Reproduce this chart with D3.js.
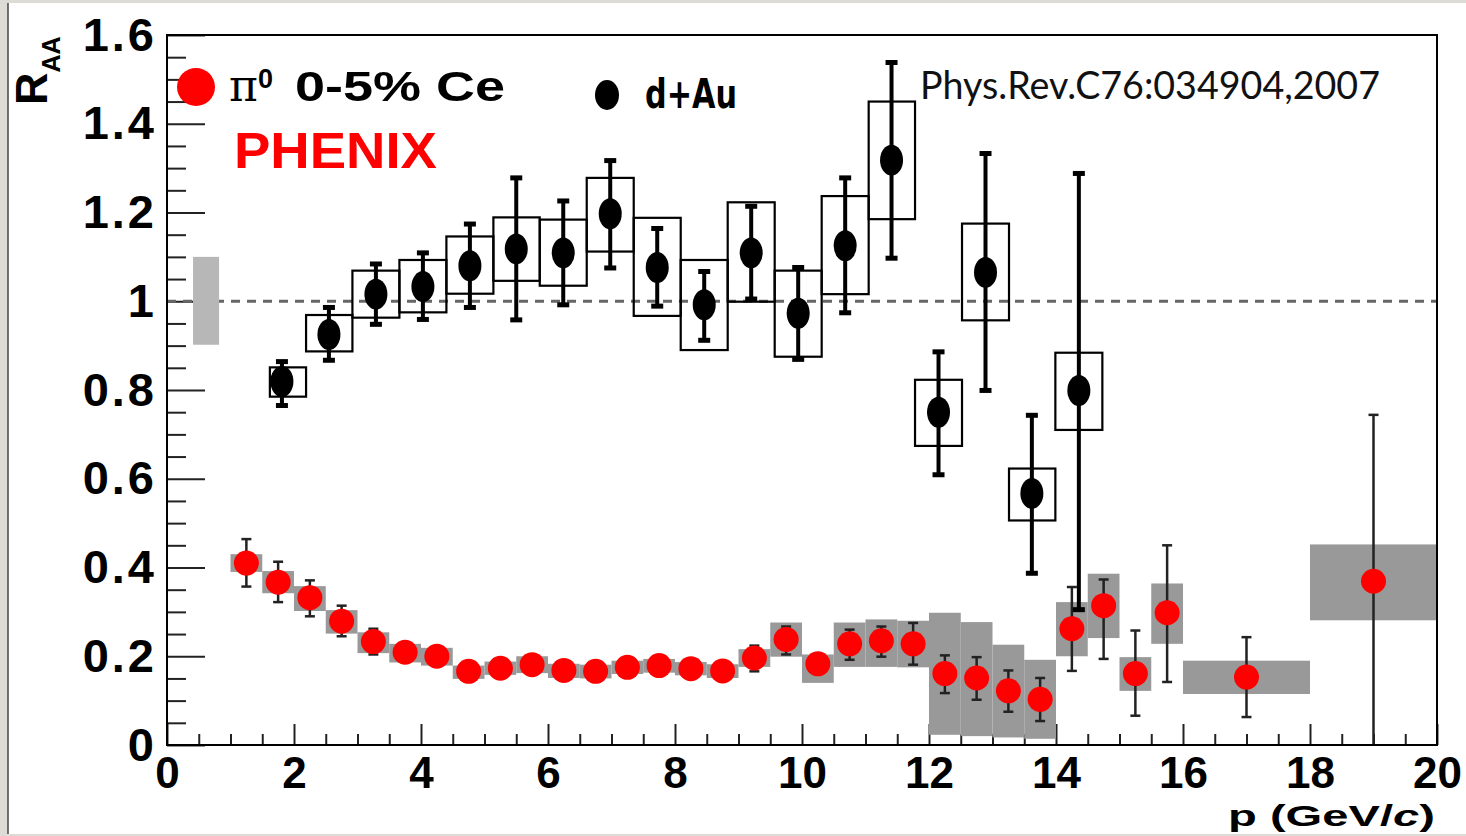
<!DOCTYPE html>
<html>
<head>
<meta charset="utf-8">
<script src="https://cdn.jsdelivr.net/npm/d3@7"></script>
<style>
  body { margin: 0; background: white; }
  svg { display: block; }
</style>
</head>
<body>
<script>
// pi0 0-5% central Au+Au (red points, grey sys boxes)
var piX     = [1.25, 1.75, 2.25, 2.75, 3.25, 3.75, 4.25, 4.75, 5.25, 5.75, 6.25, 6.75, 7.25, 7.75, 8.25, 8.75,
               9.25, 9.75, 10.25, 10.75, 11.25, 11.75, 12.25, 12.75, 13.25, 13.75, 14.25, 14.75, 15.25, 15.75, 17, 19];
var piBinLo = [1, 1.5, 2, 2.5, 3, 3.5, 4, 4.5, 5, 5.5, 6, 6.5, 7, 7.5, 8, 8.5,
               9, 9.5, 10, 10.5, 11, 11.5, 12, 12.5, 13, 13.5, 14, 14.5, 15, 15.5, 16, 18];
var piBinHi = [1.5, 2, 2.5, 3, 3.5, 4, 4.5, 5, 5.5, 6, 6.5, 7, 7.5, 8, 8.5, 9,
               9.5, 10, 10.5, 11, 11.5, 12, 12.5, 13, 13.5, 14, 14.5, 15, 15.5, 16, 18, 20];
var piVal    = [0.410, 0.367, 0.332, 0.279, 0.233, 0.209, 0.200, 0.166, 0.173, 0.181, 0.168, 0.166, 0.175, 0.179, 0.172, 0.167,
                0.196, 0.238, 0.183, 0.228, 0.235, 0.228, 0.161, 0.151, 0.122, 0.103, 0.262, 0.314, 0.161, 0.298, 0.153, 0.369];
var piStatHi = [0.464, 0.413, 0.371, 0.314, 0.262, 0.222, 0.212, 0.176, 0.183, 0.191, 0.178, 0.176, 0.185, 0.189, 0.182, 0.177,
                0.224, 0.267, 0.204, 0.260, 0.267, 0.275, 0.202, 0.198, 0.168, 0.151, 0.356, 0.373, 0.258, 0.450, 0.243, 0.744];
var piStatLo = [0.357, 0.322, 0.290, 0.245, 0.204, 0.196, 0.188, 0.156, 0.163, 0.171, 0.158, 0.156, 0.165, 0.169, 0.162, 0.157,
                0.166, 0.204, 0.161, 0.192, 0.199, 0.181, 0.117, 0.102, 0.075, 0.054, 0.167, 0.194, 0.066, 0.142, 0.063, 0.0];
var piSysHi  = [0.430, 0.392, 0.358, 0.304, 0.254, 0.228, 0.219, 0.179, 0.188, 0.200, 0.183, 0.181, 0.190, 0.194, 0.187, 0.182,
                0.216, 0.276, 0.204, 0.276, 0.283, 0.280, 0.298, 0.277, 0.226, 0.192, 0.322, 0.386, 0.198, 0.364, 0.190, 0.452];
var piSysLo  = [0.390, 0.342, 0.302, 0.251, 0.207, 0.186, 0.179, 0.149, 0.158, 0.162, 0.151, 0.150, 0.160, 0.163, 0.157, 0.151,
                0.176, 0.199, 0.140, 0.176, 0.176, 0.175, 0.023, 0.020, 0.017, 0.014, 0.200, 0.241, 0.122, 0.228, 0.115, 0.281];

// d+Au (black points, open sys boxes)
var dauX     = [1.81, 2.55, 3.29, 4.03, 4.77, 5.50, 6.24, 6.98, 7.72, 8.46, 9.20, 9.94, 10.68, 11.41, 12.15, 12.89, 13.62, 14.36];
var dauBinLo = [1.62, 2.19, 2.92, 3.66, 4.40, 5.14, 5.87, 6.61, 7.35, 8.09, 8.83, 9.57, 10.31, 11.05, 11.78, 12.52, 13.26, 13.99];
var dauBinHi = [2.19, 2.92, 3.66, 4.40, 5.14, 5.87, 6.61, 7.35, 8.09, 8.83, 9.57, 10.31, 11.05, 11.78, 12.52, 13.26, 13.99, 14.73];
var dauVal    = [0.819, 0.925, 1.016, 1.033, 1.080, 1.118, 1.109, 1.197, 1.076, 0.992, 1.109, 0.973, 1.125, 1.318, 0.750, 1.065, 0.567, 0.799];
var dauStatHi = [0.864, 0.986, 1.084, 1.109, 1.174, 1.278, 1.226, 1.317, 1.164, 1.067, 1.214, 1.076, 1.278, 1.538, 0.886, 1.333, 0.743, 1.288];
var dauStatLo = [0.765, 0.867, 0.948, 0.959, 0.986, 0.958, 0.992, 1.075, 0.989, 0.912, 1.005, 0.869, 0.974, 1.097, 0.609, 0.799, 0.387, 0.305];
var dauSysHi  = [0.851, 0.969, 1.069, 1.093, 1.146, 1.189, 1.184, 1.278, 1.188, 1.093, 1.223, 1.069, 1.237, 1.450, 0.823, 1.175, 0.623, 0.884];
var dauSysLo  = [0.785, 0.887, 0.963, 0.975, 1.017, 1.046, 1.035, 1.112, 0.967, 0.890, 0.999, 0.875, 1.016, 1.185, 0.674, 0.957, 0.506, 0.710];

// global normalisation band at R=1
var normBand = { x0: 0.41, x1: 0.82, lo: 0.902, hi: 1.1 };

var xTicks = [0, 2, 4, 6, 8, 10, 12, 14, 16, 18, 20];
var yTicks = [0, 0.2, 0.4, 0.6, 0.8, 1, 1.2, 1.4, 1.6];

var width = 1466,
    height = 836;

var svg = d3.select("body").append("svg")
  .attr("width", width)
  .attr("height", height);

// page frame of the screenshot
svg.append("rect")
  .attr("width", width).attr("height", height)
  .style("fill", "#dddbd6");
svg.append("rect")
  .attr("x", 8).attr("y", 3)
  .attr("width", width - 8).attr("height", 831)
  .style("fill", "white");
svg.append("line")
  .attr("x1", 8).attr("x2", 8).attr("y1", 3).attr("y2", 834)
  .style("stroke", "#444").style("stroke-width", 1.5);

var x = d3.scaleLinear().domain([0, 20]).range([167, 1437]);
var y = d3.scaleLinear().domain([0, 1.6]).range([745, 35]);

var font = "'Liberation Sans', Arial, sans-serif";

// minor ticks
var xMinor = d3.range(0, 20.01, 0.5).filter(function(v) { return v % 2 !== 0; });
var yMinor = d3.range(0, 32).map(function(i) { return i * 0.05; }).filter(function(v, i) { return i % 4 !== 0; });

var gx = svg.append("g").attr("transform", "translate(0,745)");
gx.call(d3.axisBottom(x).tickValues(xMinor).tickSize(-11).tickSizeOuter(0).tickFormat(""));
gx.select(".domain").remove();

var gxMaj = svg.append("g").attr("transform", "translate(0,745)");
gxMaj.call(d3.axisBottom(x).tickValues(xTicks).tickSize(-21).tickSizeOuter(0).tickPadding(12).tickFormat(d3.format("d")));
gxMaj.select(".domain").remove();

var gy = svg.append("g").attr("transform", "translate(167,0)");
gy.call(d3.axisLeft(y).tickValues(yMinor).tickSize(-19).tickSizeOuter(0).tickFormat(""));
gy.select(".domain").remove();

var gyMaj = svg.append("g").attr("transform", "translate(167,0)");
gyMaj.call(d3.axisLeft(y).tickValues(yTicks).tickSize(-38).tickSizeOuter(0).tickPadding(10).tickFormat(d3.format("~g")));
gyMaj.select(".domain").remove();

svg.selectAll(".tick line")
  .style("stroke", "#222")
  .style("stroke-width", 2);

gxMaj.selectAll("text")
  .style("font-family", font)
  .style("font-weight", "bold")
  .style("font-size", "44px")
  .style("fill", "black");

gyMaj.selectAll("text")
  .style("font-family", font)
  .style("font-weight", "bold")
  .style("font-size", "47px")
  .style("letter-spacing", "3px")
  .style("fill", "black");

// dashed line at 1
svg.append("line")
  .attr("x1", x(0)).attr("x2", x(20))
  .attr("y1", y(1)).attr("y2", y(1))
  .style("stroke", "#666")
  .style("stroke-width", 3)
  .style("stroke-dasharray", "9,7");

svg.append("rect")
  .attr("x", x(normBand.x0))
  .attr("width", x(normBand.x1) - x(normBand.x0))
  .attr("y", y(normBand.hi))
  .attr("height", y(normBand.lo) - y(normBand.hi))
  .style("fill", "#b7b7b7");

var pi = piX.map(function(v, i) {
  return { x: v, lo: piBinLo[i], hi: piBinHi[i], val: piVal[i],
           sh: piStatHi[i], sl: piStatLo[i], yh: piSysHi[i], yl: piSysLo[i] };
});
var dau = dauX.map(function(v, i) {
  return { x: v, lo: dauBinLo[i], hi: dauBinHi[i], val: dauVal[i],
           sh: dauStatHi[i], sl: dauStatLo[i], yh: dauSysHi[i], yl: dauSysLo[i] };
});

// pi0 systematic boxes
svg.append("g").selectAll("rect")
  .data(pi)
  .enter().append("rect")
  .attr("x", function(d) { return x(d.lo); })
  .attr("width", function(d) { return x(d.hi) - x(d.lo); })
  .attr("y", function(d) { return y(d.yh); })
  .attr("height", function(d) { return y(d.yl) - y(d.yh); })
  .style("fill", "#999");

// pi0 stat errors
var piErr = svg.append("g").selectAll("g")
  .data(pi)
  .enter().append("g")
  .style("stroke", "#222")
  .style("stroke-width", 2.5);
piErr.append("line")
  .attr("x1", function(d) { return x(d.x); })
  .attr("x2", function(d) { return x(d.x); })
  .attr("y1", function(d) { return y(d.sh); })
  .attr("y2", function(d) { return y(d.sl); });
piErr.append("line")
  .attr("x1", function(d) { return x(d.x) - 5; })
  .attr("x2", function(d) { return x(d.x) + 5; })
  .attr("y1", function(d) { return y(d.sh); })
  .attr("y2", function(d) { return y(d.sh); });
piErr.filter(function(d) { return d.sl > 0; }).append("line")
  .attr("x1", function(d) { return x(d.x) - 5; })
  .attr("x2", function(d) { return x(d.x) + 5; })
  .attr("y1", function(d) { return y(d.sl); })
  .attr("y2", function(d) { return y(d.sl); });

svg.append("g").selectAll("circle")
  .data(pi)
  .enter().append("circle")
  .attr("cx", function(d) { return x(d.x); })
  .attr("cy", function(d) { return y(d.val); })
  .attr("r", 12.5)
  .style("fill", "#ff0000");

// d+Au systematic boxes
svg.append("g").selectAll("rect")
  .data(dau)
  .enter().append("rect")
  .attr("x", function(d) { return x(d.lo); })
  .attr("width", function(d) { return x(d.hi) - x(d.lo); })
  .attr("y", function(d) { return y(d.yh); })
  .attr("height", function(d) { return y(d.yl) - y(d.yh); })
  .style("fill", "none")
  .style("stroke", "black")
  .style("stroke-width", 2.2);

var dauErr = svg.append("g").selectAll("g")
  .data(dau)
  .enter().append("g")
  .style("stroke", "black");
dauErr.append("line")
  .attr("x1", function(d) { return x(d.x); })
  .attr("x2", function(d) { return x(d.x); })
  .attr("y1", function(d) { return y(d.sh); })
  .attr("y2", function(d) { return y(d.sl); })
  .style("stroke-width", 4);
dauErr.selectAll(".cap")
  .data(function(d) { return [[d.x, d.sh], [d.x, d.sl]]; })
  .enter().append("line")
  .attr("class", "cap")
  .attr("x1", function(c) { return x(c[0]) - 6; })
  .attr("x2", function(c) { return x(c[0]) + 6; })
  .attr("y1", function(c) { return y(c[1]); })
  .attr("y2", function(c) { return y(c[1]); })
  .style("stroke-width", 5);

svg.append("g").selectAll("ellipse")
  .data(dau)
  .enter().append("ellipse")
  .attr("cx", function(d) { return x(d.x); })
  .attr("cy", function(d) { return y(d.val); })
  .attr("rx", 11.5)
  .attr("ry", 15.5)
  .style("fill", "black");

// frame
svg.append("rect")
  .attr("x", x(0)).attr("y", y(1.6))
  .attr("width", x(20) - x(0))
  .attr("height", y(0) - y(1.6))
  .style("fill", "none")
  .style("stroke", "black")
  .style("stroke-width", 2);

// axis titles
var ytitle = svg.append("text")
  .attr("transform", "translate(47,105) rotate(-90)")
  .style("font-family", font)
  .style("font-weight", "bold")
  .style("font-size", "45px");
ytitle.append("tspan").text("R");
ytitle.append("tspan").attr("dy", 13).style("font-size", "25px").text("AA");

var xtitle = svg.append("text")
  .attr("x", 1228).attr("y", 826)
  .attr("textLength", 207)
  .attr("lengthAdjust", "spacingAndGlyphs")
  .style("font-family", font)
  .style("font-weight", "bold")
  .style("font-size", "30px");
xtitle.append("tspan").text("p  (GeV/");
xtitle.append("tspan").style("font-style", "italic").text("c");
xtitle.append("tspan").text(")");

// legend
svg.append("circle")
  .attr("cx", 196).attr("cy", 87).attr("r", 19)
  .style("fill", "#ff0000");
var leg = svg.append("text")
  .attr("x", 229).attr("y", 101)
  .style("font-family", font)
  .style("font-weight", "bold")
  .style("font-size", "43px");
leg.append("tspan")
  .style("font-family", "'DejaVu Serif', 'Liberation Serif', serif")
  .style("font-weight", "normal")
  .style("font-size", "44px")
  .text("\u03c0");
leg.append("tspan").attr("dy", -13).style("font-size", "27px").text("0");
leg.append("tspan").attr("dy", 13).attr("x", 295).attr("textLength", 210).attr("lengthAdjust", "spacingAndGlyphs").text("0-5% Ce");

svg.append("text")
  .attr("x", 234).attr("y", 168)
  .attr("textLength", 203)
  .attr("lengthAdjust", "spacingAndGlyphs")
  .style("font-family", font)
  .style("font-weight", "bold")
  .style("font-size", "50px")
  .style("fill", "#ff0000")
  .text("PHENIX");

svg.append("ellipse")
  .attr("cx", 607).attr("cy", 95).attr("rx", 12).attr("ry", 15)
  .style("fill", "black");
svg.append("text")
  .attr("x", 645).attr("y", 108)
  .attr("textLength", 92)
  .attr("lengthAdjust", "spacingAndGlyphs")
  .style("font-family", "'DejaVu Sans Condensed', 'DejaVu Sans', sans-serif")
  .style("font-weight", "bold")
  .style("font-size", "40px")
  .text("d+Au");

svg.append("text")
  .attr("x", 920).attr("y", 99)
  .attr("textLength", 460)
  .attr("lengthAdjust", "spacingAndGlyphs")
  .style("font-family", "Lato, 'Open Sans', sans-serif")
  .style("font-size", "39px")
  .style("fill", "#111")
  .text("Phys.Rev.C76:034904,2007");
</script>
</body>
</html>
